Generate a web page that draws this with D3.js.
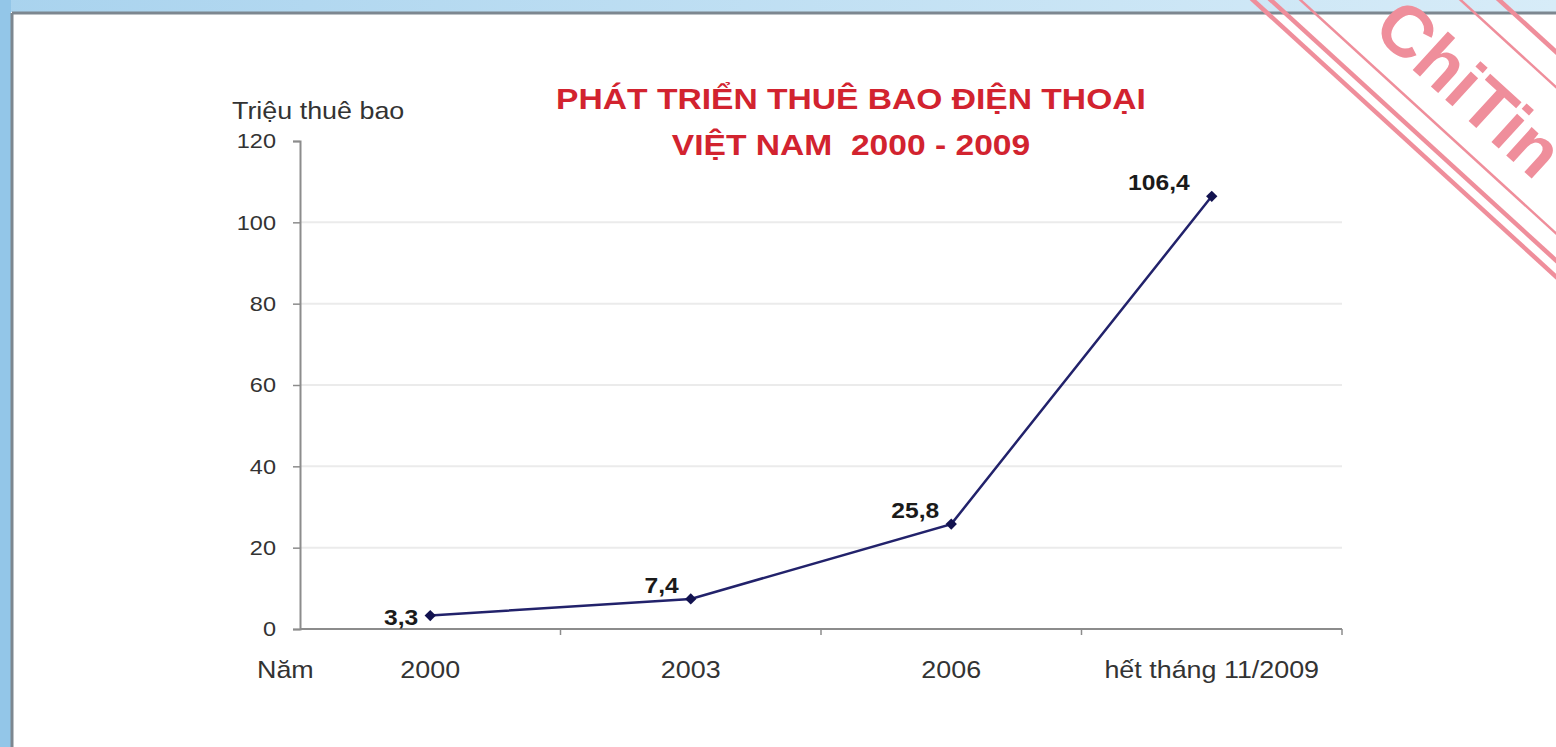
<!DOCTYPE html>
<html>
<head>
<meta charset="utf-8">
<script src="https://cdn.jsdelivr.net/npm/d3@7"></script>
<style>
  body { margin: 0; background: #fff; }
  svg { display: block; font-family: "Liberation Sans", Arial, sans-serif; }
</style>
</head>
<body>
<svg id="chart" width="1556" height="747"></svg>
<script>
// data
const categories = ["2000", "2003", "2006", "hết tháng 11/2009"];
const subscribers = [3.3, 7.4, 25.8, 106.4];
const yTicks = [0, 20, 40, 60, 80, 100, 120];
const titleLines = ["PHÁT TRIỂN THUÊ BAO ĐIỆN THOẠI", "VIỆT NAM  2000 - 2009"];

// the source picture is a little wider than tall, so text gets stretched too
var STRETCH = 1.12;

/**
 * Stretches every text of a selection sideways round its own x.
 */
function stretch(sel) {
  sel.attr("transform", function() {
    var x = +this.getAttribute("x") || 0;
    return "translate(" + x + ",0) scale(" + STRETCH + ",1) translate(" + (-x) + ",0)";
  });
}

/**
 * Window frame round the screenshot: light blue strip and dark edge.
 */
function drawFrame(svg, width, height) {
  var sky = svg.append("defs").append("linearGradient")
    .attr("id", "sky").attr("x1", 0).attr("x2", 1).attr("y1", 0).attr("y2", 0);
  sky.append("stop").attr("offset", "0%").attr("stop-color", "#a9d3ee");
  sky.append("stop").attr("offset", "100%").attr("stop-color", "#d7ecf8");

  svg.append("rect").attr("width", width).attr("height", 12).attr("fill", "url(#sky)");
  svg.append("rect").attr("width", 11).attr("height", height).attr("fill", "#93c6e8");
  svg.append("line")
    .attr("x1", 12).attr("x2", width).attr("y1", 13).attr("y2", 13)
    .attr("stroke", "#7d8790").attr("stroke-width", 3);
  svg.append("line")
    .attr("x1", 12).attr("x2", 12).attr("y1", 13).attr("y2", height)
    .attr("stroke", "#7d8790").attr("stroke-width", 3);
}

/**
 * Red watermark stamp in the top right corner.
 */
function drawWatermark(svg) {
  var g = svg.append("g")
    .attr("transform", "translate(1253,0) rotate(42.4)");
  [[0, 4.5], [-12, 4.5], [-32, 2.5], [-140, 2.5], [-166, 4.5]].forEach(function(l) {
    g.append("line")
      .attr("x1", -60).attr("x2", 600)
      .attr("y1", l[0]).attr("y2", l[0])
      .attr("stroke", "#ef8e9b").attr("stroke-width", l[1]);
  });
  g.append("text")
    .attr("x", 108).attr("y", -56)
    .style("font-size", "72px")
    .style("font-weight", "bold")
    .attr("fill", "#ef8e9b")
    .text("ChiTin");
}

function drawChart() {
  var svg = d3.select("#chart");
  var width = 1556, height = 747;
  var left = 300, right = 1342, top = 141, bottom = 629;

  drawFrame(svg, width, height);
  drawWatermark(svg);

  var x = d3.scaleBand()
    .domain(categories)
    .range([left, right]);

  var y = d3.scaleLinear()
    .domain([0, 120])
    .range([bottom, top]);

  // gridlines
  svg.append("g")
    .selectAll("line")
    .data(yTicks.filter(function(d) { return d > 0 && d < 120; }))
    .enter().append("line")
    .attr("x1", left).attr("x2", right)
    .attr("y1", function(d) { return y(d); })
    .attr("y2", function(d) { return y(d); })
    .attr("stroke", "#ebebeb")
    .attr("stroke-width", 2);

  // y axis
  var yAxis = svg.append("g")
    .attr("transform", "translate(" + left + ",0)")
    .call(d3.axisLeft(y).tickValues(yTicks).tickSize(7).tickPadding(17));
  yAxis.select(".domain").attr("stroke", "#8c8c8c").attr("stroke-width", 2);
  yAxis.selectAll(".tick line").attr("stroke", "#8c8c8c").attr("stroke-width", 1.5);
  yAxis.selectAll("text")
    .style("font-size", "21px")
    .style("font-family", "Liberation Sans, Arial, sans-serif")
    .attr("fill", "#333")
    .call(stretch);

  // x axis, ticks sit between the categories
  var xAxis = svg.append("g")
    .attr("transform", "translate(0," + bottom + ")");
  xAxis.append("line")
    .attr("x1", left).attr("x2", right)
    .attr("stroke", "#8c8c8c").attr("stroke-width", 2);
  xAxis.selectAll(".sep")
    .data(categories)
    .enter().append("line")
    .attr("class", "sep")
    .attr("x1", function(d) { return x(d) + x.bandwidth(); })
    .attr("x2", function(d) { return x(d) + x.bandwidth(); })
    .attr("y1", 0).attr("y2", 6)
    .attr("stroke", "#8c8c8c").attr("stroke-width", 1.5);
  xAxis.selectAll(".cat")
    .data(categories)
    .enter().append("text")
    .attr("class", "cat")
    .attr("x", function(d) { return x(d) + x.bandwidth() / 2; })
    .attr("y", 49)
    .style("text-anchor", "middle")
    .style("font-size", "24px")
    .attr("fill", "#333")
    .text(function(d) { return d; })
    .call(stretch);

  svg.append("text")
    .attr("x", 232).attr("y", 119)
    .style("font-size", "24px")
    .attr("fill", "#333")
    .text("Triệu thuê bao")
    .call(stretch);

  svg.append("text")
    .attr("x", 257).attr("y", 678)
    .style("font-size", "24px")
    .attr("fill", "#333")
    .text("Năm")
    .call(stretch);

  // the series
  var points = categories.map(function(c, i) {
    return { cat: c, value: subscribers[i] };
  });
  var line = d3.line()
    .x(function(d) { return x(d.cat) + x.bandwidth() / 2; })
    .y(function(d) { return y(d.value); });

  svg.append("path")
    .datum(points)
    .attr("fill", "none")
    .attr("stroke", "#22226b")
    .attr("stroke-width", 2.5)
    .attr("d", line);

  svg.selectAll(".marker")
    .data(points)
    .enter().append("path")
    .attr("class", "marker")
    .attr("d", d3.symbol().type(d3.symbolSquare).size(64))
    .attr("transform", function(d) {
      return "translate(" + (x(d.cat) + x.bandwidth() / 2) + "," + y(d.value) + ") rotate(45)";
    })
    .attr("fill", "#12124f");

  svg.selectAll(".label")
    .data(points)
    .enter().append("text")
    .attr("class", "label")
    .attr("x", function(d, i) { return x(d.cat) + x.bandwidth() / 2 - (i == 3 ? 22 : 12); })
    .attr("y", function(d, i) { return y(d.value) + (i == 0 ? 9 : -6); })
    .style("text-anchor", "end")
    .style("font-size", "22px")
    .style("font-weight", "bold")
    .attr("fill", "#1a1a1a")
    .text(function(d) { return String(d.value).replace(".", ","); })
    .call(stretch);

  drawTitle(svg, 851, 109);
}

/**
 * Two line red title above the plot.
 */
function drawTitle(svg, cx, y0) {
  svg.append("g").selectAll("text")
    .data(titleLines)
    .enter().append("text")
    .attr("x", cx)
    .attr("y", function(d, i) { return y0 + i * 46; })
    .style("text-anchor", "middle")
    .style("font-size", "30px")
    .style("font-weight", "bold")
    .style("white-space", "pre")
    .attr("fill", "#d2232f")
    .text(function(d) { return d; })
    .call(stretch);
}

drawChart();
</script>
</body>
</html>
